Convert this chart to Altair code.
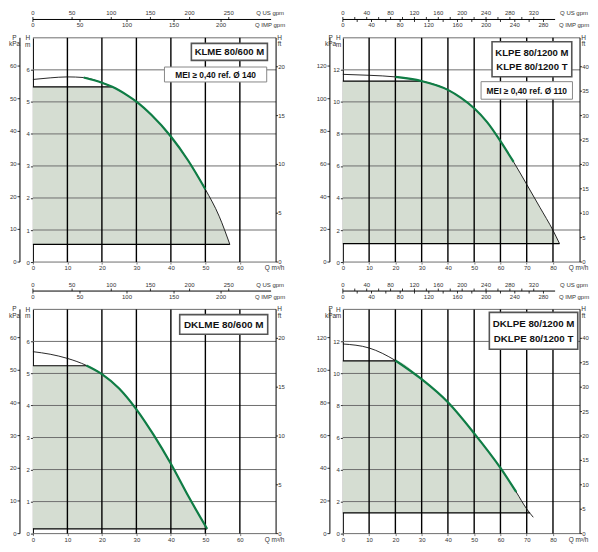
import altair as alt
import pandas as pd

# unit conversions used for the secondary scales
M_TO_KPA = 9.80665
M_TO_FT = 3.28084
M3H_TO_USGPM = 4.402868
M3H_TO_IMPGPM = 3.666154

# ---------------- data ----------------
# KLME 80/600 M
klme_q = [0, 5, 10, 14.7, 20, 23, 27.7, 30, 34.4, 40, 45, 50, 54, 57.1]
klme_h = [5.70, 5.75, 5.78, 5.76, 5.60, 5.47, 5.18, 5.01, 4.59, 3.92, 3.17, 2.27, 1.43, 0.55]
klme_green = [14.7, 50]
klme_field = [23, 5.47, 57.1, 0.55]          # knee Q, top H, end Q, bottom H
klme_title = ["KLME 80/600 M"]
klme_mei = "MEI ≥ 0,40 ref. Ø 140"

# KLPE 80/1200 M / T
klpe_q = [0, 10, 20, 30, 40, 45, 50, 55, 60, 65, 70, 75, 80, 82.5]
klpe_h = [11.72, 11.66, 11.56, 11.30, 10.75, 10.25, 9.60, 8.72, 7.55, 6.25, 4.85, 3.42, 1.98, 1.15]
klpe_green = [20, 65]
klpe_field = [30, 11.30, 82.5, 1.15]
klpe_title = ["KLPE 80/1200 M", "KLPE 80/1200 T"]
klpe_mei = "MEI ≥ 0,40 ref. Ø 110"

# DKLME 80/600 M
dklme_q = [0, 5, 10, 15.5, 20, 25, 30, 35, 40, 45, 50.5]
dklme_h = [5.68, 5.60, 5.47, 5.25, 4.98, 4.53, 3.88, 3.08, 2.18, 1.18, 0.15]
dklme_green = [15.5, 50.5]
dklme_field = [15.5, 5.24, 50.5, 0.15]
dklme_title = ["DKLME 80/600 M"]

# DKLPE 80/1200 M / T
dklpe_q = [0, 10, 20, 30, 40, 50, 60, 66, 70, 72.5]
dklpe_h = [11.84, 11.59, 10.81, 9.64, 8.20, 6.26, 4.10, 2.60, 1.54, 1.02]
dklpe_green = [20, 66]
dklpe_field = [20, 10.79, 71.3, 1.29]
dklpe_title = ["DKLPE 80/1200 M", "DKLPE 80/1200 T"]

# axis ticks
small_q_ticks = [0, 10, 20, 30, 40, 50, 60]
small_q_grid = [10, 20, 30, 40, 50, 60]
small_h_ticks = [0, 1, 2, 3, 4, 5, 6]
small_h_grid = [0, 1, 2, 3, 4, 5, 6, 7]
small_p_ticks = [0, 10, 20, 30, 40, 50, 60]
small_ft_ticks = [0, 5, 10, 15, 20]
small_us_ticks = [0, 50, 100, 150, 200, 250]
small_us_labels = [0, 50, 100, 150, 200, 250]
small_imp_ticks = [0, 50, 100, 150, 200]
small_imp_labels = [0, 50, 100, 150, 200]

big_q_ticks = [0, 10, 20, 30, 40, 50, 60, 70, 80]
big_q_grid = [10, 20, 30, 40, 50, 60, 70, 80]
big_h_ticks = [0, 2, 4, 6, 8, 10, 12]
big_h_grid = [0, 2, 4, 6, 8, 10, 12, 14]
big_p_ticks = [0, 20, 40, 60, 80, 100, 120]
big_ft_ticks = [0, 5, 10, 15, 20, 25, 30, 35, 40]
big_us_ticks = [0, 20, 40, 60, 80, 100, 120, 140, 160, 180, 200, 220, 240, 260, 280, 300, 320]
big_us_labels = [0, 40, 80, 120, 160, 200, 240, 280, 320]
big_imp_ticks = [0, 20, 40, 60, 80, 100, 120, 140, 160, 180, 200, 220, 240, 260, 280]
big_imp_labels = [0, 40, 80, 120, 160, 200, 240, 280]

# ---------------- styles ----------------
GREEN = "#0f7d45"
FILL = "#d5ddd2"
GRID_H = "#6e6e6e"
AXF = "Liberation Sans, Arial, Helvetica, sans-serif"
BOXF = "Liberation Sans Narrow, Arial Narrow, Liberation Sans, Arial, sans-serif"
LAB = dict(font=AXF, fontSize=6, color="#333")

W_SMALL, W_BIG, HP = 244, 238, 225
P_OFF = 13.0        # P axis line distance left of plot
TOP_LINE = 18.4     # gpm axis line distance above plot
TK = 2.5            # tick length


def one_row():
    return pd.DataFrame({"k": [0]})


def panel(q, h, green, field, qmax, hmax, W, ticks, ptitle_dx, hm_dx, line_cut, boxes):
    (q_ticks, q_grid, h_ticks, h_grid, p_ticks, ft_ticks,
     us_ticks, us_labels, imp_ticks, imp_labels) = ticks
    xs = alt.Scale(domain=[0, qmax], nice=False, zero=False)
    ys = alt.Scale(domain=[0, hmax], nice=False, zero=False)
    x_axis = alt.Axis(orient="bottom", values=q_ticks, domain=False, grid=False,
                      tickColor="#555", tickSize=2, tickWidth=0.8, labelPadding=0.5,
                      labelFont=AXF, labelFontSize=6, labelColor="#333", labelFlush=False,
                      labelOverlap=False, title="Q m³/h", titleFont=AXF, titleFontSize=6.5,
                      titleFontWeight="normal", titleColor="#333", titleX=W - 2, titleY=5.5,
                      titleAlign="center", titleBaseline="middle")
    y_axis = alt.Axis(orient="left", values=h_ticks, domain=True, domainColor="#000",
                      domainWidth=1, grid=False, tickColor="#000", tickSize=TK, tickWidth=0.8,
                      labelPadding=1, labelFont=AXF, labelFontSize=6, labelColor="#333",
                      labelFlush=False, labelOverlap=False, title=["H", "m"], titleFont=AXF,
                      titleFontSize=6.5, titleFontWeight="normal", titleColor="#333",
                      titleAngle=0, titleX=hm_dx, titleY=-3, titleAlign="center",
                      titleBaseline="top", titleLineHeight=6.5)
    x_enc = alt.X("Q:Q", scale=xs, axis=x_axis)
    y_enc = alt.Y("H:Q", scale=ys, axis=y_axis)

    knee, top, end, bottom = field
    pts = [(0, top), (knee, top)] + [(a, b) for a, b in zip(q, h) if knee < a < end] + [(end, bottom)]
    adf = pd.DataFrame({"Q": [p[0] for p in pts], "H": [p[1] for p in pts], "B": bottom})
    area = alt.Chart(adf).mark_area(color=FILL, interpolate="monotone").encode(
        x=x_enc, y=y_enc, y2=alt.Y2("B:Q"))

    hgrid = alt.Chart(pd.DataFrame({"H": h_grid})).mark_rule(
        color=GRID_H, strokeWidth=1).encode(y=y_enc)
    qgrid = alt.Chart(pd.DataFrame({"Q": q_grid})).mark_rule(
        color="#000", strokeWidth=1.4).encode(x=x_enc)

    edf = pd.DataFrame({"Q": [0, knee, 0, end], "H": [top, top, bottom, bottom],
                        "seg": ["t", "t", "b", "b"]})
    edges = alt.Chart(edf).mark_line(color="#000", strokeWidth=1.2).encode(
        x=x_enc, y=y_enc, detail="seg:N")

    cdf = pd.DataFrame({"Q": q, "H": h})
    curve = alt.Chart(cdf).mark_line(color="#111", strokeWidth=0.9,
                                     interpolate="monotone").encode(x=x_enc, y=y_enc)
    gdf = cdf[(cdf.Q >= green[0]) & (cdf.Q <= green[1])]
    gcurve = alt.Chart(gdf).mark_line(color=GREEN, strokeWidth=2.2,
                                      interpolate="monotone").encode(x=x_enc, y=y_enc)

    # ---- secondary scales drawn on the shared Q / H scales (unit conversion) ----
    pdf = pd.DataFrame({"P": p_ticks})
    p_line = alt.Chart(one_row()).mark_rule(color="#000", strokeWidth=1).encode(
        x=alt.value(-P_OFF), y=alt.value(0), y2=alt.value(HP))
    p_tk = alt.Chart(pdf).transform_calculate(H=f"datum.P / {M_TO_KPA}").mark_rule(
        color="#000", strokeWidth=0.8).encode(y=y_enc, x=alt.value(-P_OFF - TK), x2=alt.value(-P_OFF))
    p_lab = alt.Chart(pdf).transform_calculate(H=f"datum.P / {M_TO_KPA}").mark_text(
        align="right", baseline="middle", **LAB).encode(
        y=y_enc, x=alt.value(-P_OFF - TK - 0.8), text="P:Q")
    p_tit = alt.Chart(one_row()).mark_text(align="center", baseline="top", lineHeight=6.5,
                                           font=AXF, fontSize=6.5, color="#333").encode(
        x=alt.value(-P_OFF + ptitle_dx), y=alt.value(-3), text=alt.value(["P", "kPa"]))

    fdf = pd.DataFrame({"FT": ft_ticks})
    f_line = alt.Chart(one_row()).mark_rule(color="#000", strokeWidth=1).encode(
        x=alt.value(W), y=alt.value(0), y2=alt.value(HP))
    f_tk = alt.Chart(fdf).transform_calculate(H=f"datum.FT / {M_TO_FT}").mark_rule(
        color="#000", strokeWidth=0.8).encode(y=y_enc, x=alt.value(W), x2=alt.value(W + 2))
    f_lab = alt.Chart(fdf).transform_calculate(H=f"datum.FT / {M_TO_FT}").mark_text(
        align="left", baseline="middle", **LAB).encode(
        y=y_enc, x=alt.value(W + 2.2), text="FT:Q")
    f_tit = alt.Chart(one_row()).mark_text(align="center", baseline="top", lineHeight=6.5,
                                           font=AXF, fontSize=6.5, color="#333").encode(
        x=alt.value(W + 3.5), y=alt.value(-3), text=alt.value(["H", "ft"]))

    g_line = alt.Chart(one_row()).mark_rule(color="#000", strokeWidth=1).encode(
        x=alt.value(0), x2=alt.value(W - line_cut), y=alt.value(-TOP_LINE))
    u_tk = alt.Chart(pd.DataFrame({"US": us_ticks})).transform_calculate(
        Q=f"datum.US / {M3H_TO_USGPM}").mark_rule(color="#000", strokeWidth=0.8).encode(
        x=x_enc, y=alt.value(-TOP_LINE - TK), y2=alt.value(-TOP_LINE))
    u_lab = alt.Chart(pd.DataFrame({"US": us_labels})).transform_calculate(
        Q=f"datum.US / {M3H_TO_USGPM}").mark_text(align="center", baseline="middle", **LAB).encode(
        x=x_enc, y=alt.value(-TOP_LINE - 6.4), text="US:Q")
    i_tk = alt.Chart(pd.DataFrame({"IMP": imp_ticks})).transform_calculate(
        Q=f"datum.IMP / {M3H_TO_IMPGPM}").mark_rule(color="#000", strokeWidth=0.8).encode(
        x=x_enc, y=alt.value(-TOP_LINE), y2=alt.value(-TOP_LINE + TK))
    i_lab = alt.Chart(pd.DataFrame({"IMP": imp_labels})).transform_calculate(
        Q=f"datum.IMP / {M3H_TO_IMPGPM}").mark_text(align="center", baseline="middle", **LAB).encode(
        x=x_enc, y=alt.value(-TOP_LINE + 5.7), text="IMP:Q")
    g_tit = [
        alt.Chart(one_row()).mark_text(align="center", baseline="middle", **LAB).encode(
            x=alt.value(W - 6), y=alt.value(-TOP_LINE - 6.4), text=alt.value("Q US gpm")),
        alt.Chart(one_row()).mark_text(align="center", baseline="middle", **LAB).encode(
            x=alt.value(W - 6), y=alt.value(-TOP_LINE + 5.7), text=alt.value("Q IMP gpm")),
    ]

    extra = []
    for (r_off, bw, y0, y1, sw, stroke, lines, ly, fs) in boxes:
        x1 = W - r_off
        x0 = x1 - bw
        extra.append(alt.Chart(one_row()).mark_rect(fill="white", stroke=stroke, strokeWidth=sw).encode(
            x=alt.value(x0), x2=alt.value(x1), y=alt.value(y0), y2=alt.value(y1)))
        for txt, yy in zip(lines, ly):
            extra.append(alt.Chart(one_row()).mark_text(
                font=BOXF, fontWeight="bold", fontSize=fs, color="#111",
                align="center", baseline="middle").encode(
                x=alt.value((x0 + x1) / 2), y=alt.value(yy), text=alt.value(txt)))

    return alt.layer(area, hgrid, qgrid, edges, curve, gcurve,
                     p_line, p_tk, p_lab, p_tit, f_line, f_tk, f_lab, f_tit,
                     g_line, u_tk, u_lab, i_tk, i_lab, *g_tit, *extra).properties(width=W, height=HP)


small_ticks = (small_q_ticks, small_q_grid, small_h_ticks, small_h_grid, small_p_ticks,
               small_ft_ticks, small_us_ticks, small_us_labels, small_imp_ticks, small_imp_labels)
big_ticks = (big_q_ticks, big_q_grid, big_h_ticks, big_h_grid, big_p_ticks,
             big_ft_ticks, big_us_ticks, big_us_labels, big_imp_ticks, big_imp_labels)

# box geometry: gap to right edge, box width, y0, y1 (pixels in plot), stroke width,
# stroke colour, text lines, line y positions, font size
p1 = panel(klme_q, klme_h, klme_green, klme_field, 70.5, 7, W_SMALL, small_ticks, -5.5, -5.7, 5, [
    (8.7, 76.3, 5.6, 22.6, 1.6, "#555", klme_title, [14.3], 9.6),
    (9.4, 102.6, 29.3, 44.3, 1.0, "#888", [klme_mei], [37], 8.4),
])
p2 = panel(klpe_q, klpe_h, klpe_green, klpe_field, 90.3, 14, W_BIG, big_ticks, 0.7, -5, 25, [
    (8.3, 80, 4, 39, 1.6, "#555", klpe_title, [15.7, 29.2], 9.6),
    (7.6, 91.7, 44, 61.6, 1.0, "#888", [klpe_mei], [53], 8.4),
])
p3 = panel(dklme_q, dklme_h, dklme_green, dklme_field, 70.5, 7, W_SMALL, small_ticks, -5.5, -5.7, 5, [
    (8.4, 88.3, 5.3, 25, 1.6, "#555", dklme_title, [15.4], 10),
])
p4 = panel(dklpe_q, dklpe_h, dklpe_green, dklpe_field, 90.3, 14, W_BIG, big_ticks, 0.7, -5, 25, [
    (2.3, 88.7, 3, 40, 1.6, "#555", dklpe_title, [14.7, 29.7], 9.8),
])

chart = alt.concat(
    p1, p2, p3, p4, columns=2,
    spacing={"row": 47.5, "column": 67}, bounds="flush",
).properties(
    padding={"left": 0, "top": 1, "right": 0, "bottom": 0}
).configure_view(stroke=None)

chart.save("out.html", embed_options={"renderer": "svg", "actions": False})
